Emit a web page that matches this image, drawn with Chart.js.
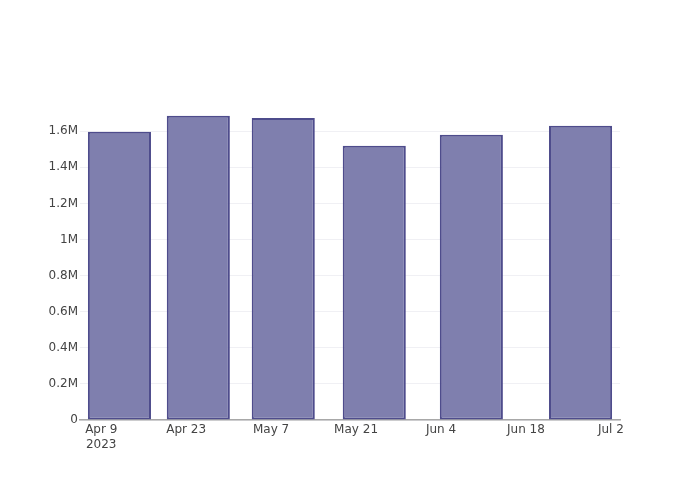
<!DOCTYPE html>
<html>
<head>
<meta charset="utf-8">
<script src="https://cdn.jsdelivr.net/npm/chart.js@4/dist/chart.umd.min.js"></script>
<style>
  html, body { margin: 0; padding: 0; background: #fff; }
  #wrap { width: 700px; height: 500px; }
</style>
</head>
<body>
<div id="wrap"><canvas id="c" width="700" height="500"></canvas></div>
<script>
// Data: bar dates (days after 2023-04-09) and values
const baseDate = [2023, 3, 9]; // Apr 9 2023 (month 0-based)
const barDays = [3, 16, 30, 45, 61, 79];
const barValues = [1597000, 1686000, 1673000, 1519000, 1580000, 1630000];
const xTickDays = [0, 14, 28, 42, 56, 70, 84];
const yTickValues = [0, 200000, 400000, 600000, 800000, 1000000, 1200000, 1400000, 1600000];
const xRange = [-3.5, 85.5];
const yMax = 1773000;

const monthNames = ['Jan','Feb','Mar','Apr','May','Jun','Jul','Aug','Sep','Oct','Nov','Dec'];
function dayLabel(d, first) {
  const dt = new Date(Date.UTC(baseDate[0], baseDate[1], baseDate[2] + d));
  const s = monthNames[dt.getUTCMonth()] + ' ' + dt.getUTCDate();
  return first ? [s, String(dt.getUTCFullYear())] : s;
}

const font = { family: '"DejaVu Sans", Verdana, sans-serif', size: 12 };

new Chart(document.getElementById('c'), {
  type: 'bar',
  data: {
    datasets: [{
      data: barDays.map((d, i) => ({ x: d, y: barValues[i] })),
      backgroundColor: 'rgb(127,127,174)',
      borderColor: 'rgb(78,76,140)',
      borderWidth: 2,
      borderSkipped: false,
      categoryPercentage: 1.0,
      barPercentage: 0.8
    }]
  },
  options: {
    responsive: false,
    animation: false,
    layout: { padding: { top: 100, right: 80, left: 0, bottom: 0 } },
    plugins: { legend: { display: false }, tooltip: { enabled: false } },
    scales: {
      x: {
        type: 'linear',
        offset: false,
        min: xRange[0],
        max: xRange[1],
        afterBuildTicks: s => { s.ticks = xTickDays.map(v => ({ value: v })); },
        afterFit: s => { s.height = 80; },
        grid: { display: false, drawTicks: false, offset: false },
        border: { display: true, color: '#a8a8a8', width: 1.5 },
        ticks: {
          color: '#444',
          font: font,
          padding: 3,
          maxRotation: 0,
          autoSkip: false,
          callback: (v, i) => dayLabel(v, i === 0)
        }
      },
      y: {
        min: 0,
        max: yMax,
        afterBuildTicks: s => { s.ticks = yTickValues.map(v => ({ value: v })); },
        afterFit: s => { s.width = 80; },
        grid: { color: '#f0f0f4', lineWidth: 1, drawTicks: false },
        border: { display: false },
        ticks: {
          color: '#444',
          font: font,
          padding: 2,
          callback: v => v === 0 ? '0' : (v / 1e6) + 'M'
        }
      }
    }
  }
});
</script>
</body>
</html>
